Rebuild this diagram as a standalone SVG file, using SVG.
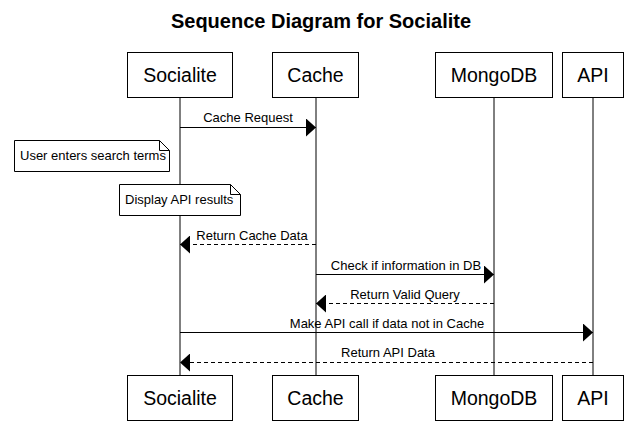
<svg xmlns="http://www.w3.org/2000/svg" width="644" height="426" viewBox="0 0 644 426">
<style>
.box{fill:#fff;stroke:#000;stroke-width:1}
.life{stroke:#000;stroke-width:1}
.pl{font-family:"Liberation Sans",Arial,sans-serif;font-size:19.5px;text-anchor:middle;fill:#000}
.ml{font-family:"Liberation Sans",Arial,sans-serif;font-size:13px;text-anchor:middle;fill:#000}
.nt{font-family:"Liberation Sans",Arial,sans-serif;font-size:13px;fill:#000}
.msg{stroke:#000;stroke-width:1;fill:none}
.dash{stroke-dasharray:4,3}
.title{font-family:"Liberation Sans",Arial,sans-serif;font-size:20px;font-weight:bold;text-anchor:middle;fill:#000}
</style>
<defs>
<marker id="ah" markerWidth="10" markerHeight="18" refX="10" refY="9" orient="auto" markerUnits="userSpaceOnUse">
<path d="M0,0 L10,9 L0,18 Z" fill="#000"/>
</marker>
</defs>
<rect width="644" height="426" fill="#fff"/>
<text class="title" x="321" y="28">Sequence Diagram for Socialite</text>
<g id="lifelines">
<line class="life" x1="180" y1="97" x2="180" y2="375"/>
<line class="life" x1="316" y1="97" x2="316" y2="375"/>
<line class="life" x1="494" y1="97" x2="494" y2="375"/>
<line class="life" x1="593" y1="97" x2="593" y2="375"/>
</g>
<g id="socialite">
<rect class="box" x="127.5" y="52.5" width="105" height="45"/>
<text class="pl" x="180" y="82">Socialite</text>
<rect class="box" x="127.5" y="375.5" width="105" height="45"/>
<text class="pl" x="180" y="405">Socialite</text>
</g>
<g id="cache">
<rect class="box" x="272.5" y="52.5" width="86" height="45"/>
<text class="pl" x="315.5" y="82">Cache</text>
<rect class="box" x="272.5" y="375.5" width="86" height="45"/>
<text class="pl" x="315.5" y="405">Cache</text>
</g>
<g id="mongodb">
<rect class="box" x="435.5" y="52.5" width="117" height="45"/>
<text class="pl" x="494" y="82">MongoDB</text>
<rect class="box" x="435.5" y="375.5" width="117" height="45"/>
<text class="pl" x="494" y="405">MongoDB</text>
</g>
<g id="api">
<rect class="box" x="562.5" y="52.5" width="61" height="45"/>
<text class="pl" x="593" y="82">API</text>
<rect class="box" x="562.5" y="375.5" width="61" height="45"/>
<text class="pl" x="593" y="405">API</text>
</g>
<g id="note1">
<path class="box" d="M14.5,140.5 H159.5 L169.5,150.5 V171.5 H14.5 Z"/>
<path class="msg" d="M159.5,140.5 V150.5 H169.5"/>
<text class="nt" x="20" y="160">User enters search terms</text>
</g>
<g id="note2">
<path class="box" d="M119.5,184.5 H230.5 L240.5,194.5 V215.5 H119.5 Z"/>
<path class="msg" d="M230.5,184.5 V194.5 H240.5"/>
<text class="nt" x="125" y="204">Display API results</text>
</g>
<g id="connectors">
<line class="msg" x1="180" y1="127.5" x2="316" y2="127.5" marker-end="url(#ah)"/>
<text class="ml" x="248" y="122">Cache Request</text>
<line class="msg dash" x1="316" y1="244.5" x2="180" y2="244.5" marker-end="url(#ah)"/>
<text class="ml" x="252" y="240">Return Cache Data</text>
<line class="msg" x1="316" y1="274.5" x2="494" y2="274.5" marker-end="url(#ah)"/>
<text class="ml" x="406" y="270">Check if information in DB</text>
<line class="msg dash" x1="494" y1="303.5" x2="316" y2="303.5" marker-end="url(#ah)"/>
<text class="ml" x="405" y="299">Return Valid Query</text>
<line class="msg" x1="180" y1="332.5" x2="593" y2="332.5" marker-end="url(#ah)"/>
<text class="ml" x="387" y="328">Make API call if data not in Cache</text>
<line class="msg dash" x1="593" y1="362.5" x2="180" y2="362.5" marker-end="url(#ah)"/>
<text class="ml" x="388" y="357">Return API Data</text>
</g>
</svg>
